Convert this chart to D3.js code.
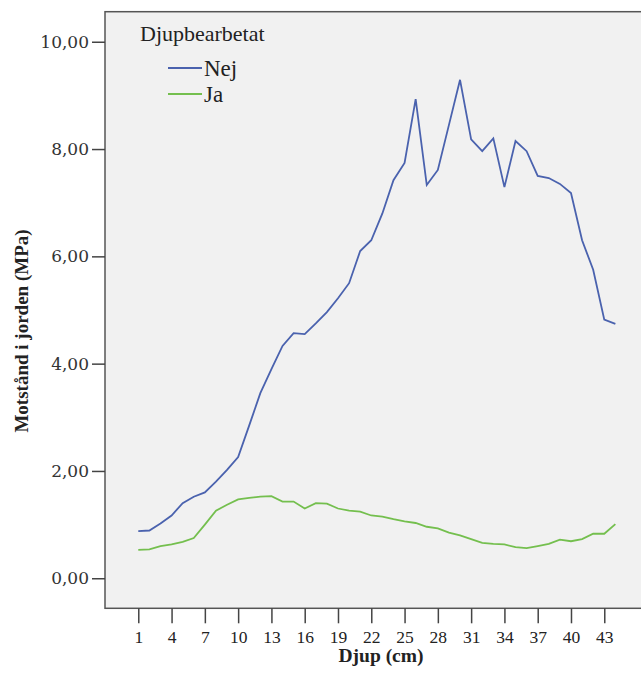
<!DOCTYPE html>
<html><head><meta charset="utf-8">
<script src="https://cdn.jsdelivr.net/npm/d3@7"></script>
<style>body{margin:0;background:#fff}svg{display:block}</style>
</head><body>
<svg id="c" width="641" height="687"></svg>
<script>
const depths = d3.range(1, 45);
const nej = [0.88,0.89,1.02,1.17,1.40,1.52,1.60,1.80,2.02,2.26,2.85,3.45,3.90,4.33,4.57,4.55,4.75,4.96,5.22,5.50,6.10,6.30,6.80,7.42,7.74,8.93,7.33,7.61,8.45,9.29,8.18,7.96,8.20,7.29,8.15,7.96,7.50,7.46,7.35,7.18,6.30,5.75,4.82,4.74];
const ja  = [0.53,0.54,0.60,0.63,0.68,0.75,1.00,1.26,1.37,1.47,1.50,1.52,1.53,1.43,1.43,1.30,1.40,1.39,1.30,1.26,1.24,1.17,1.15,1.10,1.06,1.03,0.96,0.93,0.85,0.80,0.73,0.66,0.64,0.63,0.58,0.56,0.60,0.64,0.72,0.69,0.73,0.83,0.83,1.01];
const xTicks = [1,4,7,10,13,16,19,22,25,28,31,34,37,40,43];
const yTicks = [0,2,4,6,8,10];
const seriesNames = ["Nej","Ja"];
const colors = ["#4a62ae","#74bf4e"];

const svg = d3.select("#c");
const unit = 11.095;
const x = d3.scaleLinear().domain([-2, 47]).range([105, 105 + 49*unit]);
const y = d3.scaleLinear().domain([-0.56, 10.56]).range([608.3, 11.7]);

svg.append("rect").attr("x",105).attr("y",11.7).attr("width",49*unit).attr("height",608.3-11.7)
  .attr("fill","#f1f1f1").attr("stroke","#555").attr("stroke-width",1.5);

const fmt = v => d3.format(".2f")(v).replace(".", ",");
const ya = svg.append("g").attr("transform","translate(105,0)")
  .call(d3.axisLeft(y).tickValues(yTicks).tickFormat(fmt).tickSize(13).tickPadding(3));
ya.select(".domain").remove();
ya.selectAll("line").attr("stroke","#444").attr("stroke-width",1.5);
ya.selectAll("text").attr("font-family","DejaVu Serif").attr("font-size",17).attr("fill","#333");

const xa = svg.append("g").attr("transform","translate(0,608.3)")
  .call(d3.axisBottom(x).tickValues(xTicks).tickSize(15).tickPadding(7));
xa.select(".domain").remove();
xa.selectAll("line").attr("stroke","#444").attr("stroke-width",1.5);
xa.selectAll("text").attr("font-family","Liberation Serif").attr("font-size",17.5).attr("fill","#222");

const line = d3.line().x((d,i)=>x(depths[i])).y(d=>y(d));
[nej, ja].forEach((s,k)=>{
  svg.append("path").datum(s).attr("d",line).attr("fill","none")
    .attr("stroke",colors[k]).attr("stroke-width",1.8);
});

svg.append("text").attr("x",140).attr("y",41).attr("font-family","Liberation Serif")
  .attr("font-size",22).attr("fill","#222").text("Djupbearbetat");
seriesNames.forEach((n,k)=>{
  const yy = 68 + k*26;
  svg.append("line").attr("x1",168).attr("x2",202).attr("y1",yy).attr("y2",yy)
    .attr("stroke",colors[k]).attr("stroke-width",1.8);
  svg.append("text").attr("x",204).attr("y",yy+8).attr("font-family","Liberation Serif")
    .attr("font-size",23).attr("fill","#222").text(n);
});

svg.append("text").attr("transform","translate(28,331) rotate(-90)").attr("text-anchor","middle")
  .attr("font-family","Liberation Serif").attr("font-weight","bold").attr("font-size",19)
  .attr("fill","#222").text("Motstånd i jorden (MPa)");
svg.append("text").attr("x",381).attr("y",662).attr("text-anchor","middle")
  .attr("font-family","Liberation Serif").attr("font-weight","bold").attr("font-size",19.5)
  .attr("fill","#222").text("Djup (cm)");
</script>
</body></html>
